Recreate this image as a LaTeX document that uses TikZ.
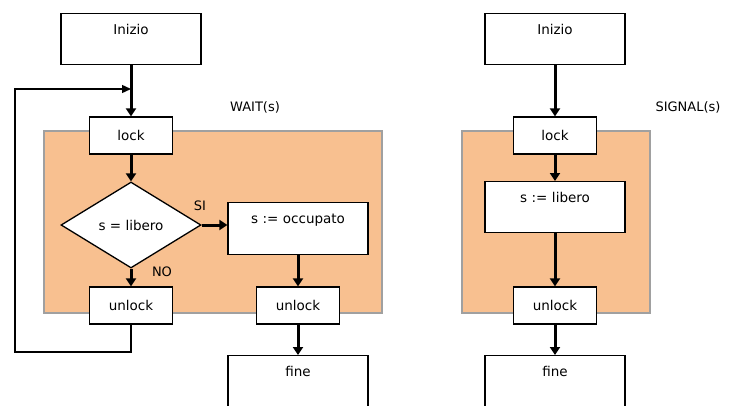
\documentclass[tikz,border=0pt]{standalone}
\usepackage{fontspec}
\setmainfont{DejaVu Sans}
\usetikzlibrary{shapes.geometric,arrows.meta}
\definecolor{zone}{RGB}{248,192,144}
\definecolor{zoneedge}{RGB}{160,160,160}
\tikzset{
  box/.style={draw=black,line width=1.3pt,fill=white,inner sep=0pt,
    font=\fontsize{13.5}{16}\selectfont},
  bigbox/.style={box,text width=140pt,align=center,text height=21pt,text depth=30pt},
  smallbox/.style={box,minimum width=83pt,minimum height=37pt},
  cond/.style={box,diamond,minimum width=140pt,minimum height=86pt},
  flow/.style={line width=3pt,-{Triangle[length=8pt,width=10pt]}},
  back/.style={line width=1.4pt,-{Triangle[length=9pt,width=8pt]}},
  crit/.style={fill=zone,draw=zoneedge,line width=1.5pt},
  tag/.style={font=\fontsize{13}{15}\selectfont,inner sep=0pt}
}
\begin{document}
\begin{tikzpicture}[x=1pt,y=-1pt]
\useasboundingbox (0,0) rectangle (729,405);
\clip (0,0) rectangle (729,405);

% critical sections
\draw[crit] (44,131) rectangle (382,313);
\draw[crit] (462,131) rectangle (650,313);

% WAIT(s)
\node[tag] (wt) at (255,107) {WAIT(s)};
\node[bigbox] (wi) at (131,13) [anchor=north] {Inizio};
\node[smallbox] (wl) at (131,135.5) {lock};
\node[cond] (wd) at (131,225) {s = libero};
\node[bigbox,text height=21pt,text depth=31pt] (wo) at (298,202) [anchor=north] {s := occupato};
\node[smallbox] (wu1) at (131,305.5) {unlock};
\node[smallbox] (wu2) at (298,305.5) {unlock};
\node[bigbox] (wf) at (298,355) [anchor=north] {fine};
\node[tag] (si) at (200,206) {SI};
\node[tag] (no) at (162,272) {NO};

\coordinate (merge) at (131,89);
\coordinate (lb) at (131,352);
\coordinate (lc) at (15,352);
\coordinate (tc) at (15,89);

\draw[flow] (wi.south) -- (wl.north);
\draw[back] (wu1.south) -- (lb) -- (lc) -- (tc) -- (merge);
\draw[flow] (wl.south) -- (wd.north);
\draw[flow] (wd.east) -- (wo.west |- wd.east);
\draw[flow] (wd.south) -- (wu1.north);
\draw[flow] (wo.south) -- (wu2.north);
\draw[flow] (wu2.south) -- (wf.north);

% SIGNAL(s)
\node[tag] (st) at (688,107) {SIGNAL(s)};
\node[bigbox] (si0) at (555,13) [anchor=north] {Inizio};
\node[smallbox] (sl) at (555,135.5) {lock};
\node[bigbox] (sv) at (555,181) [anchor=north] {s := libero};
\node[smallbox] (su) at (555,305.5) {unlock};
\node[bigbox] (sf) at (555,355) [anchor=north] {fine};

\draw[flow] (si0.south) -- (sl.north);
\draw[flow] (sl.south) -- (sv.north);
\draw[flow] (sv.south) -- (su.north);
\draw[flow] (su.south) -- (sf.north);
\end{tikzpicture}
\end{document}
